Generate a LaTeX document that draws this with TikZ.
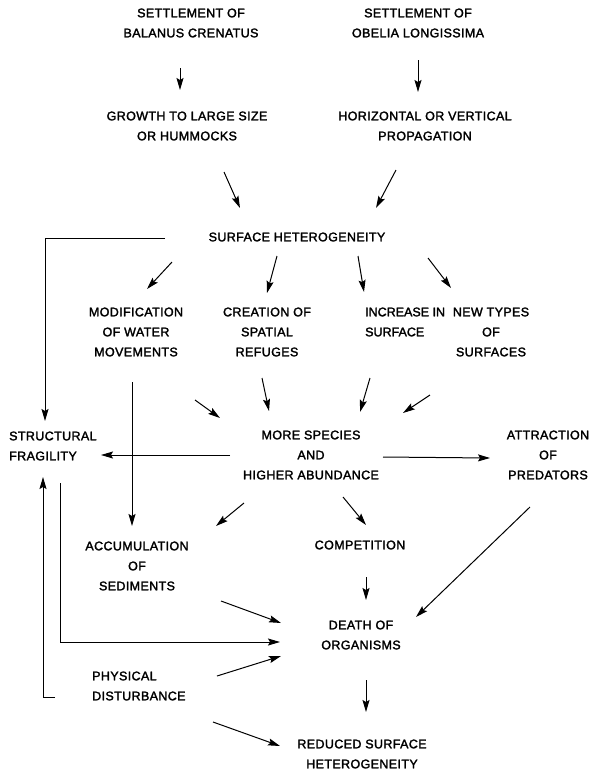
\documentclass[tikz,border=0pt]{standalone}
\usepackage{fontspec}
\setmainfont{Liberation Sans}[FakeBold=2,LetterSpace=3]
\usetikzlibrary{arrows.meta}
\begin{document}
\begin{tikzpicture}[x=1pt,y=-1pt,
  lbl/.style={inner sep=0pt,align=center,font=\fontsize{12.5}{20}\selectfont},
  lbll/.style={lbl,align=left,anchor=west},
  arr/.style={line width=1pt,-{Stealth[length=12pt,width=7pt,inset=2pt]}},
  ln/.style={line width=1pt}]
\useasboundingbox[fill=white] (0,0) rectangle (600,772);
% nodes
\node[lbl] (setB) at (191,23) {SETTLEMENT OF\\BALANUS CRENATUS};
\node[lbl] (setO) at (418,23) {SETTLEMENT OF\\OBELIA LONGISSIMA};
\node[lbl] (grow) at (187,126) {GROWTH TO LARGE SIZE\\OR HUMMOCKS};
\node[lbl] (horiz) at (425,126) {HORIZONTAL OR VERTICAL\\PROPAGATION};
\node[lbl] (surf) at (297,237) {SURFACE HETEROGENEITY};
\node[lbl] (mod) at (136,332) {MODIFICATION\\OF WATER\\MOVEMENTS};
\node[lbl] (crea) at (267,332) {CREATION OF\\SPATIAL\\REFUGES};
\node[lbll,font=\fontsize{12.5}{20}\selectfont\addfontfeature{LetterSpace=0}] (incr) at (365,322) {INCREASE IN\\SURFACE};
\node[lbl] (newt) at (491,332) {NEW TYPES\\OF\\SURFACES};
\node[lbll] (frag) at (9,446) {STRUCTURAL\\FRAGILITY};
\node[lbl] (more) at (311,455) {MORE SPECIES\\AND\\HIGHER ABUNDANCE};
\node[lbl] (attr) at (548,455) {ATTRACTION\\OF\\PREDATORS};
\node[lbl] (accu) at (137,566) {ACCUMULATION\\OF\\SEDIMENTS};
\node[lbl] (comp) at (360,545) {COMPETITION};
\node[lbl] (death) at (361,635) {DEATH OF\\ORGANISMS};
\node[lbll] (phys) at (92,686) {PHYSICAL\\DISTURBANCE};
\node[lbl] (redu) at (362,754) {REDUCED SURFACE\\HETEROGENEITY};
% connectors
\draw[arr] ([shift={(-11,45)}]setB.center) -- ([shift={(-7,-36)}]grow.center);
\draw[arr] ([shift={(0,37)}]setO.center) -- ([shift={(-7,-34)}]horiz.center);
\draw[arr] ([shift={(37,46)}]grow.center) -- ([shift={(-57,-29)}]surf.center);
\draw[arr] ([shift={(-29,44)}]horiz.center) -- ([shift={(79,-29)}]surf.center);
\draw[arr] ([shift={(-125,25)}]surf.center) -- ([shift={(11,-43)}]mod.center);
\draw[arr] ([shift={(-20,19)}]surf.center) -- ([shift={(0,-39)}]crea.center);
\draw[arr] ([shift={(61,19)}]surf.center) -- ([shift={(-1,-30)}]incr.west);
\draw[arr] ([shift={(131,21)}]surf.center) -- ([shift={(-40,-44)}]newt.center);
\draw[arr] ([shift={(59,68)}]mod.center) -- ([shift={(-91,-37)}]more.center);
\draw[arr] ([shift={(-5,46)}]crea.center) -- ([shift={(-42,-44)}]more.center);
\draw[arr] ([shift={(5,56)}]incr.west) -- ([shift={(49,-43)}]more.center);
\draw[arr] ([shift={(-61,63)}]newt.center) -- ([shift={(92,-42)}]more.center);
\draw[arr] ([shift={(-132,1)}]surf.center) -- ([shift={(36,1)}]frag.west|-surf.center) -- ([shift={(36,-25)}]frag.west);
\draw[arr] ([shift={(-4,50)}]mod.center) -- ([shift={(-5,-40)}]accu.center);
\draw[arr] ([shift={(-81,0)}]more.center) -- ([shift={(92,9)}]frag.west);
\draw[arr] ([shift={(72,2)}]more.center) -- ([shift={(-58,3)}]attr.center);
\draw[arr] ([shift={(-67,48)}]more.center) -- ([shift={(79,-40)}]accu.center);
\draw[arr] ([shift={(32,42)}]more.center) -- ([shift={(6,-20)}]comp.center);
\draw[arr] ([shift={(51,37)}]frag.west) -- ([shift={(51,196)}]frag.west) -- ([shift={(-81,7)}]death.center);
\draw[arr] ([shift={(-37,11)}]phys.west) -- ([shift={(-49,11)}]phys.west) -- ([shift={(34,31)}]frag.west);
\draw[arr] ([shift={(84,35)}]accu.center) -- ([shift={(-80,-12)}]death.center);
\draw[arr] ([shift={(125,-10)}]phys.west) -- ([shift={(-80,21)}]death.center);
\draw[arr] ([shift={(6,32)}]comp.center) -- ([shift={(5,-35)}]death.center);
\draw[arr] ([shift={(-18,52)}]attr.center) -- ([shift={(55,-18)}]death.center);
\draw[arr] ([shift={(5,45)}]death.center) -- ([shift={(4,-42)}]redu.center);
\draw[arr] ([shift={(121,36)}]phys.west) -- ([shift={(-82,-8)}]redu.center);
\end{tikzpicture}
\end{document}
